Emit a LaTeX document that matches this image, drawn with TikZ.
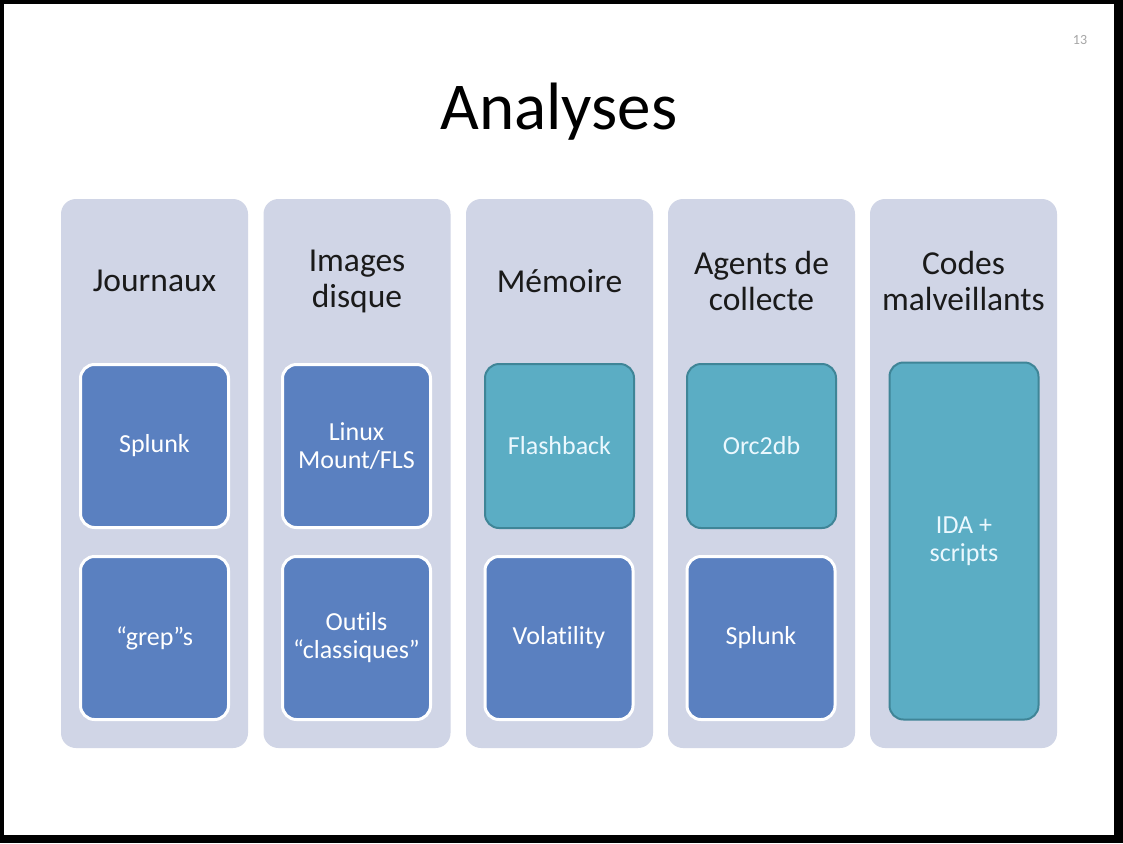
\documentclass[tikz,border=0pt]{standalone}
\usepackage{fontspec}
\setmainfont{Carlito}[Ligatures=NoCommon]
\definecolor{colbg}{HTML}{D0D5E6}
\definecolor{boxblue}{HTML}{5A80C0}
\definecolor{boxteal}{HTML}{5BADC4}
\definecolor{tealedge}{HTML}{3F8597}
\definecolor{hdtext}{HTML}{1A1A1A}
\begin{document}
\begin{tikzpicture}[x=1pt,y=-1pt,
  colbox/.style={rounded corners=15pt, fill=colbg, minimum width=187pt, minimum height=549pt, inner sep=0pt},
  header/.style={text=hdtext, font=\fontsize{33.5}{36}\selectfont, align=center, inner sep=0pt},
  bluebox/.style={rounded corners=14pt, fill=boxblue, draw=white, line width=3pt, minimum width=148pt, minimum height=163pt, text=white, font=\fontsize{26}{28}\selectfont, align=center, inner sep=0pt},
  tealbox/.style={rounded corners=14pt, fill=boxteal, draw=tealedge, line width=2pt, minimum width=149pt, minimum height=164pt, text=white!92!cyan, font=\fontsize{26}{28}\selectfont, align=center, inner sep=0pt}]
\useasboundingbox (0,0) rectangle (1123,843);
\fill[black] (0,0) rectangle (1123,843);
\fill[white] (4,4) rectangle (1114,835);
\node[text=gray!70, font=\fontsize{14}{16}\selectfont] (pnum) at (1080,40) {13};
\node[font=\fontsize{67}{70}\selectfont, text=black] (title) at (559,112) {Analyses};
% columns
\node[colbox] (c1) at (154.5,473.5) {};
\node[colbox] (c2) at (357,473.5) {};
\node[colbox] (c3) at (559.5,473.5) {};
\node[colbox] (c4) at (761.5,473.5) {};
\node[colbox] (c5) at (963.5,473.5) {};
% headers
\node[header] (h1) at (154.5,281) {Journaux};
\node[header] (h2) at (357,281) {Images\\disque};
\node[header] (h3) at (559.5,281) {Mémoire};
\node[header] (h4) at (761.5,281) {Agents de\\collecte};
\node[header] (h5) at (963.5,281) {Codes\\malveillants};
% inner boxes
\node[bluebox] (b11) at (154.5,446) {Splunk};
\node[bluebox] (b12) at (154.5,638) {“grep”s};
\node[bluebox] (b21) at (356.5,446) {Linux\\Mount/FLS};
\node[bluebox] (b22) at (356.5,638) {Outils\\“classiques”};
\node[tealbox] (b31) at (559.5,446) {Flashback};
\node[bluebox] (b32) at (559,638) {Volatility};
\node[tealbox] (b41) at (761.5,446) {Orc2db};
\node[bluebox] (b42) at (761,638) {Splunk};
\node[tealbox, minimum height=357pt] (b51) at (964,541) {IDA +\\scripts};
\end{tikzpicture}
\end{document}
